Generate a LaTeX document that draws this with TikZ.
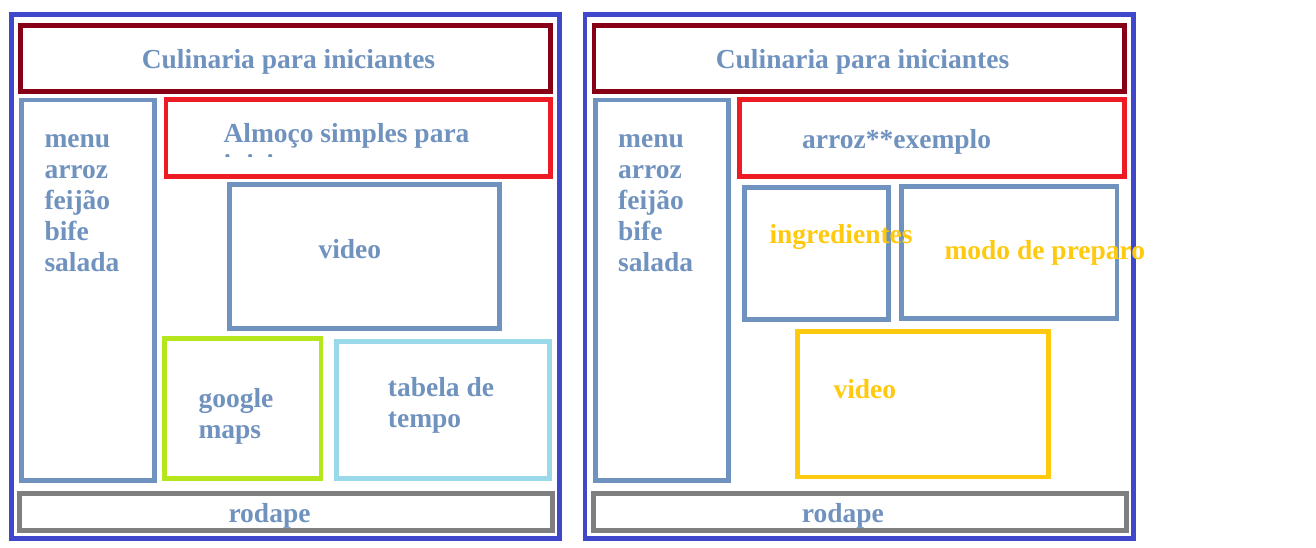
\documentclass[tikz,border=0pt]{standalone}
\usepackage{fontspec}
\setmainfont{Liberation Serif}
\definecolor{cBlue}{RGB}{63,72,204}
\definecolor{cMaroon}{RGB}{136,0,21}
\definecolor{cRed}{RGB}{237,28,36}
\definecolor{cSteel}{RGB}{112,146,190}
\definecolor{cLime}{RGB}{181,230,29}
\definecolor{cSky}{RGB}{153,217,234}
\definecolor{cGray}{RGB}{127,127,127}
\definecolor{cGold}{RGB}{255,201,14}
\begin{document}
\begin{tikzpicture}[x=1pt,y=-1pt,
  box/.style={line width=4.6pt},
  txt/.style={anchor=base west, inner sep=0pt, yshift=-1.2pt, font=\bfseries\fontsize{27.5}{31}\selectfont, text=cSteel},
  ctxt/.style={txt, anchor=base},
  ytxt/.style={txt, text=cGold}]
\useasboundingbox (0,0) rectangle (1316,548);

% ---------- left panel ----------
\draw[box,cBlue]   (11.3,14.5)  rectangle (559.7,538.3);
\draw[box,cMaroon] (20.5,25.5)  rectangle (550.7,91.3);
\draw[box,cSteel]  (21.5,100)   rectangle (154.5,480.5);
\draw[box,cRed]    (165.8,99.3) rectangle (550.7,176.8);
\draw[box,cSteel]  (229.7,184.7) rectangle (499.3,328.7);
\draw[box,cLime]   (164.5,338.5) rectangle (321,478.5);
\draw[box,cSky]    (336.5,341.5) rectangle (549.5,478.5);
\draw[box,cGray]   (19.5,493.7) rectangle (552.7,530.7);

% ---------- right panel ----------
\draw[box,cBlue]   (585,14.5)   rectangle (1133.2,538.3);
\draw[box,cMaroon] (594,25.5)   rectangle (1124.4,91.3);
\draw[box,cSteel]  (595.2,100)  rectangle (728.2,480.5);
\draw[box,cRed]    (739.5,99.3) rectangle (1124.4,176.8);
\draw[box,cSteel]  (744.7,187.3) rectangle (888.7,319.3);
\draw[box,cSteel]  (901.7,186.3) rectangle (1117,318.3);
\draw[box,cGold]   (797.7,331.7) rectangle (1048.3,477);
\draw[box,cGray]   (593.2,493.7) rectangle (1126.7,530.7);

% ---------- left texts ----------
\node[ctxt] (lhead) at (288.5,67.7) {Culinaria para iniciantes};
\node[txt] (lm1) at (44.3,146) {menu};
\node[txt] (lm2) at (44.3,177) {arroz};
\node[txt] (lm3) at (44.3,208) {feijão};
\node[txt] (lm4) at (44.3,239) {bife};
\node[txt] (lm5) at (44.3,270) {salada};
\node[txt] (ltitle) at (223.3,141.7) {Almoço simples para};
\begin{scope}
  \clip (165.8,99.3) rectangle (550.7,156.5);
  \node[txt] (ltitle2) at (223.3,172.7) {iniciantes};
\end{scope}
\node[txt] (lvideo) at (318.3,257.7) {video};
\node[txt] (lg1) at (198.3,406) {google};
\node[txt] (lg2) at (198.3,437) {maps};
\node[txt] (lt1) at (387.7,395.3) {tabela de};
\node[txt] (lt2) at (387.7,426.5) {tempo};
\node[txt] (lfoot) at (228.3,521.7) {rodape};

% ---------- right texts ----------
\node[ctxt] (rhead) at (862.5,67.7) {Culinaria para iniciantes};
\node[txt] (rm1) at (618,146) {menu};
\node[txt] (rm2) at (618,177) {arroz};
\node[txt] (rm3) at (618,208) {feijão};
\node[txt] (rm4) at (618,239) {bife};
\node[txt] (rm5) at (618,270) {salada};
\node[txt] (rtitle) at (802,147.5) {arroz**exemplo};
\node[ytxt] (ring) at (769.3,242.7) {ingredientes};
\node[ytxt] (rmodo) at (944.3,258.3) {modo de preparo};
\node[ytxt] (rvideo) at (833.3,397.3) {video};
\node[txt] (rfoot) at (801.7,521.7) {rodape};
\end{tikzpicture}
\end{document}
